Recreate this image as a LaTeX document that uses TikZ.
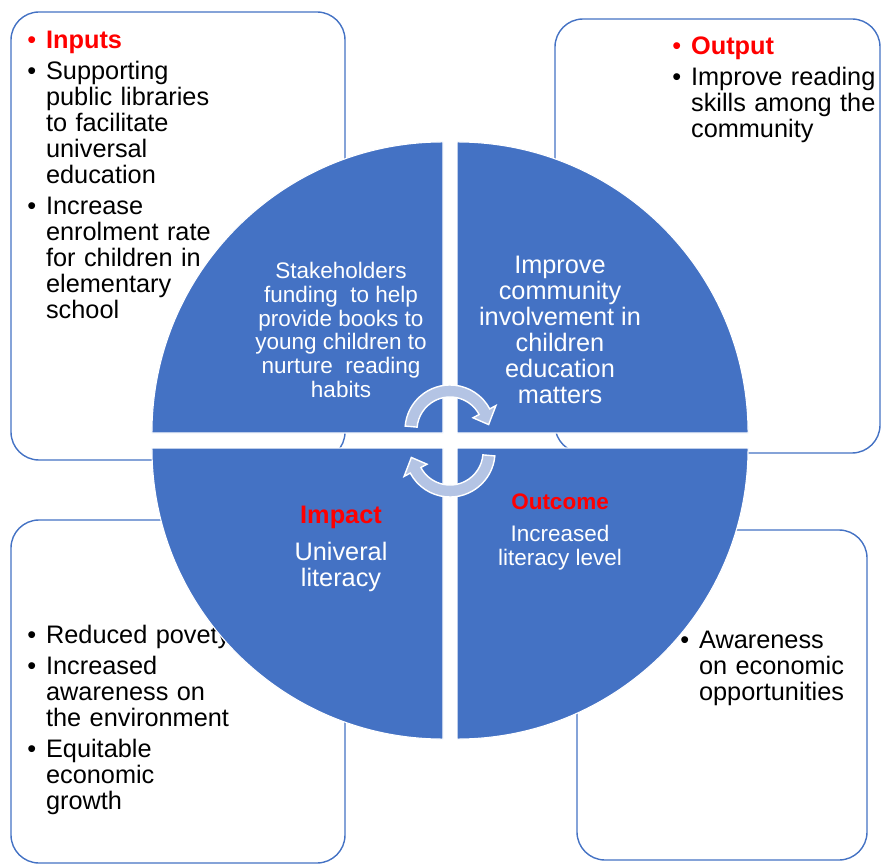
\documentclass[tikz,border=0pt]{standalone}
\usepackage{fontspec}
\setmainfont{Liberation Sans}

\definecolor{quadblue}{HTML}{4472C4}
\definecolor{arrowfill}{RGB}{180,196,228}

% bullet line with hanging indent
\newcommand{\bitem}[2][black]{\par\hangindent=0.47cm\hangafter=1\noindent\makebox[0.47cm][l]{\textcolor{#1}{\textbullet}}#2\par}

\begin{document}
\begin{tikzpicture}[x=0.025cm,y=0.025cm,
    box/.style={draw=quadblue,line width=1pt,fill=white,rounded corners=0.7cm},
    quad/.style={fill=quadblue,draw=white,line width=0.8pt},
    listtext/.style={anchor=north west,inner sep=0pt,text width=8cm,align=left,
      font={\fontsize{18}{18.5}\selectfont\setlength{\parskip}{3.6pt}}},
    circtext/.style={text=white,align=center,inner sep=0pt},
    heading/.style={text=red,inner sep=0pt},
    cyclearrow/.style={fill=arrowfill,draw=white,line width=1pt}]
  \useasboundingbox (0,0) rectangle (881,864);

  % boxes behind the circle
  \draw[box] (11,404) rectangle (345,852);
  \draw[box] (555,411) rectangle (880,845);
  \draw[box] (11,1) rectangle (345,344);
  \draw[box] (577,4) rectangle (867,334);

  \node[listtext] (inputs) at (27,847) {%
    \bitem[red]{\textcolor{red}{\bfseries Inputs}}
    \bitem{Supporting\newline public libraries\newline to facilitate\newline universal\newline education}
    \bitem{Increase\newline enrolment rate\newline for children in\newline elementary\newline school}};
  \node[listtext] (output) at (672,841) {%
    \bitem[red]{\textcolor{red}{\bfseries Output}}
    \bitem{Improve reading\newline skills among the\newline community}};
  \node[listtext] (impacts) at (27,252) {%
    \bitem{Reduced povety}
    \bitem{Increased\newline awareness on\newline the environment}
    \bitem{Equitable\newline economic\newline growth}};
  \node[listtext] (outcomes) at (680,247) {%
    \bitem{Awareness\newline on economic\newline opportunities}};

  % the four quadrants
  \path[quad] (443,431) -- ++(180:7.275cm) arc[start angle=180,end angle=90,radius=7.275cm] -- cycle;
  \path[quad] (457,431) -- ++(90:7.275cm) arc[start angle=90,end angle=0,radius=7.275cm] -- cycle;
  \path[quad] (443,416) -- ++(270:7.275cm) arc[start angle=270,end angle=180,radius=7.275cm] -- cycle;
  \path[quad] (457,416) -- ++(0:7.275cm) arc[start angle=0,end angle=-90,radius=7.275cm] -- cycle;

  \node[circtext,font=\fontsize{16}{17}\selectfont] (stake) at (341,534)
    {Stakeholders\\funding\ \ to help\\provide books to\\young children to\\nurture\ \ reading\\habits};
  \node[circtext,font=\fontsize{18}{18.5}\selectfont] (involve) at (560,534)
    {Improve\\community\\involvement in\\children\\education\\matters};
  \node[heading,font=\bfseries\fontsize{18}{18.5}\selectfont] (impact) at (341,347) {Impact};
  \node[circtext,font=\fontsize{18}{18.5}\selectfont] (literacy) at (341,297) {Univeral\\literacy};
  \node[heading,font=\bfseries\fontsize{16}{17}\selectfont] (outcome) at (560,362) {Outcome};
  \node[circtext,font=\fontsize{16}{17}\selectfont] (level) at (560,316) {Increased\\literacy level};

  % cycle arrows in the middle
  \begin{scope}[shift={(450,434)}]
    \path[cyclearrow] (175:1.125cm) arc[start angle=175,end angle=28,radius=1.125cm]
      -- (28:1.3cm) -- (8:0.975cm) -- (28:0.65cm) -- (28:0.825cm)
      arc[start angle=28,end angle=175,radius=0.825cm] -- cycle;
  \end{scope}
  \begin{scope}[shift={(450,412)},rotate=180]
    \path[cyclearrow] (175:1.125cm) arc[start angle=175,end angle=28,radius=1.125cm]
      -- (28:1.3cm) -- (8:0.975cm) -- (28:0.65cm) -- (28:0.825cm)
      arc[start angle=28,end angle=175,radius=0.825cm] -- cycle;
  \end{scope}
\end{tikzpicture}
\end{document}
